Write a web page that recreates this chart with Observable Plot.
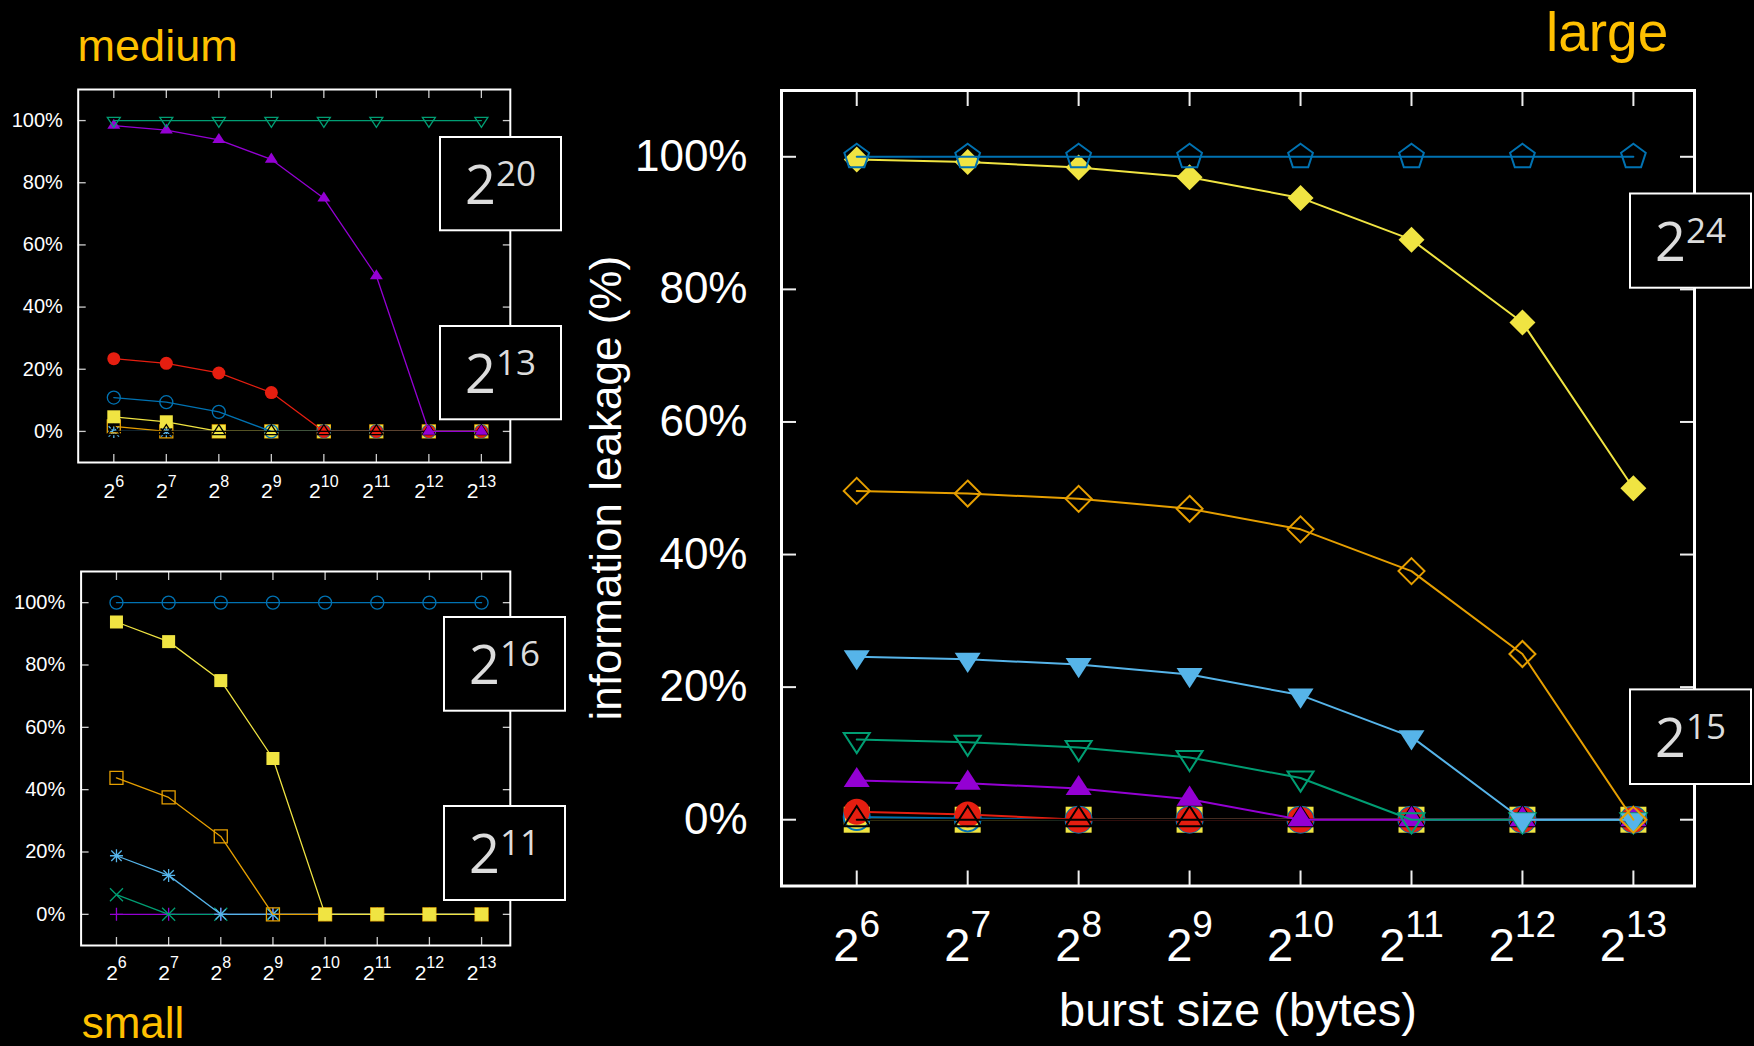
<!DOCTYPE html>
<html><head><meta charset="utf-8">
<script src="https://cdn.jsdelivr.net/npm/d3@7"></script>
<script src="https://cdn.jsdelivr.net/npm/@observablehq/plot@0.6"></script>
<style>
html,body{margin:0;padding:0;background:#000;}
#page{position:relative;width:1754px;height:1046px;overflow:hidden;background:#000;}
#page svg{position:absolute;}
</style></head><body><div id="page"></div>
<script>
// ---------- data ----------
const burstSizes = [64, 128, 256, 512, 1024, 2048, 4096, 8192];
const xTicks = [64, 128, 256, 512, 1024, 2048, 4096, 8192];
const yTicks = [0, 20, 40, 60, 80, 100];

// small (cache 2^11 .. 2^16)
const smallPlus       = [0, 0, 0, 0, 0, 0, 0, 0];
const smallCross      = [6.3, 0, 0, 0, 0, 0, 0, 0];
const smallStar       = [18.8, 12.5, 0, 0, 0, 0, 0, 0];
const smallBox        = [43.8, 37.5, 25, 0, 0, 0, 0, 0];
const smallFilledBox  = [93.8, 87.5, 75, 50, 0, 0, 0, 0];
const smallCircle     = [100, 100, 100, 100, 100, 100, 100, 100];

// medium (cache 2^13 .. 2^20)
const mediumStar           = [0, 0, 0, 0, 0, 0, 0, 0];
const mediumBox            = [1.6, 0, 0, 0, 0, 0, 0, 0];
const mediumFilledBox      = [4.7, 3.1, 0, 0, 0, 0, 0, 0];
const mediumCircle         = [10.9, 9.4, 6.3, 0, 0, 0, 0, 0];
const mediumFilledCircle   = [23.4, 21.9, 18.8, 12.5, 0, 0, 0, 0];
const mediumTriangle       = [0, 0, 0, 0, 0, 0, 0, 0];
const mediumFilledTriangle = [98.4, 96.9, 93.8, 87.5, 75, 50, 0, 0];
const mediumTriangleDown   = [100, 100, 100, 100, 100, 100, 100, 100];

// large (cache 2^15 .. 2^24)
const largeFilledBox          = [0, 0, 0, 0, 0, 0, 0, 0];
const largeCircle             = [0.4, 0.2, 0, 0, 0, 0, 0, 0];
const largeFilledCircle       = [1.2, 0.8, 0, 0, 0, 0, 0, 0];
const largeTriangle           = [0, 0, 0, 0, 0, 0, 0, 0];
const largeFilledTriangle     = [5.9, 5.5, 4.7, 3.1, 0, 0, 0, 0];
const largeTriangleDown       = [12.1, 11.7, 10.9, 9.4, 6.3, 0, 0, 0];
const largeFilledTriangleDown = [24.6, 24.2, 23.4, 21.9, 18.8, 12.5, 0, 0];
const largeDiamond            = [49.6, 49.2, 48.4, 46.9, 43.8, 37.5, 25, 0];
const largeFilledDiamond      = [99.6, 99.2, 98.4, 96.9, 93.8, 87.5, 75, 50];
const largePentagon           = [100, 100, 100, 100, 100, 100, 100, 100];

const panelTitles = ["small", "medium", "large"];
const smallBoxLabels = ["16", "11"];
const mediumBoxLabels = ["20", "13"];
const largeBoxLabels = ["24", "15"];
const xAxisTitle = "burst size (bytes)";
const yAxisTitle = "information leakage (%)";

// ---------- styles ----------
const pointStyles = {
  plus:               {shape: "plus",         color: "#9400D3", filled: false},
  cross:              {shape: "cross",        color: "#009E73", filled: false},
  star:               {shape: "star",         color: "#56B4E9", filled: false},
  box:                {shape: "box",          color: "#E69F00", filled: false},
  filledBox:          {shape: "box",          color: "#F0E442", filled: true},
  circle:             {shape: "circle",       color: "#0072B2", filled: false},
  filledCircle:       {shape: "circle",       color: "#E51E10", filled: true},
  triangle:           {shape: "triangle",     color: "#000000", filled: false},
  filledTriangle:     {shape: "triangle",     color: "#9400D3", filled: true},
  triangleDown:       {shape: "triangleDown", color: "#009E73", filled: false},
  filledTriangleDown: {shape: "triangleDown", color: "#56B4E9", filled: true},
  diamond:            {shape: "diamond",      color: "#E69F00", filled: false},
  filledDiamond:      {shape: "diamond",      color: "#F0E442", filled: true},
  pentagon:           {shape: "pentagon",     color: "#0072B2", filled: false}
};

function sym(fn) { return {draw(ctx, size) { fn(ctx, Math.sqrt(size / Math.PI)); }}; }
const shapes = {
  plus: sym((c, s) => { c.moveTo(-s, 0); c.lineTo(s, 0); c.moveTo(0, -s); c.lineTo(0, s); }),
  cross: sym((c, s) => { c.moveTo(-s, -s); c.lineTo(s, s); c.moveTo(-s, s); c.lineTo(s, -s); }),
  star: sym((c, s) => { c.moveTo(-s, 0); c.lineTo(s, 0); c.moveTo(0, -s); c.lineTo(0, s);
                        const k = s * 0.8; c.moveTo(-k, -k); c.lineTo(k, k); c.moveTo(-k, k); c.lineTo(k, -k); }),
  box: sym((c, s) => { c.moveTo(-s, -s); c.lineTo(s, -s); c.lineTo(s, s); c.lineTo(-s, s); c.closePath(); }),
  circle: sym((c, s) => { c.moveTo(s, 0); c.arc(0, 0, s, 0, 2 * Math.PI); c.closePath(); }),
  triangle: sym((c, s) => { c.moveTo(0, -1.05 * s); c.lineTo(s, 0.5 * s); c.lineTo(-s, 0.5 * s); c.closePath(); }),
  triangleDown: sym((c, s) => { c.moveTo(0, 1.05 * s); c.lineTo(s, -0.5 * s); c.lineTo(-s, -0.5 * s); c.closePath(); }),
  diamond: sym((c, s) => { c.moveTo(0, -s); c.lineTo(s, 0); c.lineTo(0, s); c.lineTo(-s, 0); c.closePath(); }),
  pentagon: sym((c, s) => {
    for (let k = 0; k < 5; ++k) {
      const a = -Math.PI / 2 + k * 2 * Math.PI / 5;
      const px = s * Math.cos(a), py = s * Math.sin(a);
      if (k === 0) c.moveTo(px, py); else c.lineTo(px, py);
    }
    c.closePath();
  })
};

const smallSeries = [
  [smallPlus, "plus"], [smallCross, "cross"], [smallStar, "star"],
  [smallBox, "box"], [smallFilledBox, "filledBox"], [smallCircle, "circle"]
];
const mediumSeries = [
  [mediumStar, "star"], [mediumBox, "box"], [mediumFilledBox, "filledBox"],
  [mediumCircle, "circle"], [mediumFilledCircle, "filledCircle"], [mediumTriangle, "triangle"],
  [mediumFilledTriangle, "filledTriangle"], [mediumTriangleDown, "triangleDown"]
];
const largeSeries = [
  [largeFilledBox, "filledBox"], [largeCircle, "circle"], [largeFilledCircle, "filledCircle"],
  [largeTriangle, "triangle"], [largeFilledTriangle, "filledTriangle"], [largeTriangleDown, "triangleDown"],
  [largeFilledTriangleDown, "filledTriangleDown"], [largeDiamond, "diamond"],
  [largeFilledDiamond, "filledDiamond"], [largePentagon, "pentagon"]
];

const FONT = "Liberation Sans, Arial, Helvetica, sans-serif";
const page = document.getElementById("page");
const ns = "http://www.w3.org/2000/svg";

function makePanel(o) {
  const marks = [];
  const tickStyle = {stroke: o.tickColor, strokeWidth: o.tickWidth, fill: "none", label: null};
  marks.push(Plot.axisX(xTicks, {anchor: "bottom", tickSize: o.tickLen, dy: -o.tickLen, ...tickStyle}));
  marks.push(Plot.axisX(xTicks, {anchor: "top", tickSize: o.tickLen, dy: o.tickLen, ...tickStyle}));
  marks.push(Plot.axisY(yTicks, {anchor: "left", tickSize: o.tickLen, dx: o.tickLen, ...tickStyle}));
  marks.push(Plot.axisY(yTicks, {anchor: "right", tickSize: o.tickLen, dx: -o.tickLen, ...tickStyle}));
  marks.push(Plot.axisX(xTicks, {
    anchor: "bottom", tickSize: 0, tickPadding: o.xPad, fill: "white", fontSize: o.xFont, fontFamily: FONT,
    tickFormat: d => "2^" + Math.round(Math.log2(d)),
    label: o.xLabel ?? null, labelAnchor: "center", labelOffset: o.xLabelOffset, labelArrow: "none"
  }));
  marks.push(Plot.axisY(yTicks, {
    anchor: "left", tickSize: 0, tickPadding: o.yPad, fill: "white", fontSize: o.yFont, fontFamily: FONT,
    tickFormat: d => d + "%",
    label: o.yLabel ?? null, labelAnchor: "center", labelOffset: o.yLabelOffset, labelArrow: "none"
  }));
  for (const [values, type] of o.series) {
    const st = pointStyles[type];
    const data = burstSizes.map((b, i) => ({burst: b, leak: values[i]}));
    marks.push(Plot.line(data, {x: "burst", y: "leak", stroke: st.color, strokeWidth: o.lineWidth}));
    marks.push(Plot.dot(data, {
      x: "burst", y: "leak", symbol: shapes[st.shape], r: o.s,
      fill: st.filled ? st.color : "none",
      stroke: st.filled ? "none" : st.color,
      strokeWidth: o.markWidth
    }));
  }
  marks.push(Plot.frame({stroke: "white", strokeWidth: o.frameWidth}));

  const svg = Plot.plot({
    width: o.width, height: o.height,
    marginLeft: o.marginLeft, marginRight: o.marginRight, marginTop: o.marginTop, marginBottom: o.marginBottom,
    x: {type: "log", base: 2, domain: [40, 12000]},
    y: {domain: [-10, 110]},
    style: {background: "transparent", color: "white", fontFamily: FONT, overflow: "visible"},
    marks
  });
  svg.style.left = o.left + "px";
  svg.style.top = o.top + "px";
  svg.style.maxWidth = "none";
  // superscript exponents on the x tick labels
  svg.querySelectorAll('g[aria-label="x-axis tick label"] text').forEach(t => {
    const m = /^2\^(\d+)$/.exec(t.textContent);
    if (!m) return;
    t.textContent = "";
    const a = document.createElementNS(ns, "tspan"); a.textContent = "2";
    const b = document.createElementNS(ns, "tspan"); b.textContent = m[1];
    b.setAttribute("font-size", o.supFont);
    b.setAttribute("dy", -o.supRaise);
    t.append(a, b);
  });
  page.appendChild(svg);
}

// medium panel: frame x 77.7..509.8, y 89..462
makePanel({series: mediumSeries, left: 0, top: 0, width: 580, height: 530,
  marginLeft: 77.7, marginRight: 70.2, marginTop: 89, marginBottom: 68,
  s: 6.5, lineWidth: 1.3, markWidth: 1.3, frameWidth: 2, tickLen: 8, tickWidth: 1.3, tickColor: "#cccccc",
  xFont: 21, supFont: 16, supRaise: 11.5, xPad: 21, yFont: 20, yPad: 15.4});

// small panel: frame x 80.6..509.8, y 571..945
makePanel({series: smallSeries, left: 0, top: 540, width: 580, height: 506,
  marginLeft: 80.6, marginRight: 70.2, marginTop: 31, marginBottom: 101,
  s: 6.5, lineWidth: 1.3, markWidth: 1.3, frameWidth: 2, tickLen: 8, tickWidth: 1.3, tickColor: "#cccccc",
  xFont: 21, supFont: 16, supRaise: 11.5, xPad: 19.5, yFont: 20, yPad: 15.9});

// large panel: frame x 781..1694, y 90..885.5
makePanel({series: largeSeries, left: 560, top: 0, width: 1194, height: 1046,
  marginLeft: 221, marginRight: 60, marginTop: 90, marginBottom: 160.5,
  s: 13, lineWidth: 2, markWidth: 2, frameWidth: 3, tickLen: 15, tickWidth: 2, tickColor: "#eeeeee",
  xFont: 47, supFont: 37, supRaise: 23.5, xPad: 41.5, yFont: 44, yPad: 34,
  xLabel: xAxisTitle, xLabelOffset: 140, yLabel: yAxisTitle, yLabelOffset: 192});

// ---------- overlay: titles and cache-size boxes ----------
const overlay = d3.select(page).append("svg")
  .attr("width", 1754).attr("height", 1046)
  .style("left", "0px").style("top", "0px");

const titleSpecs = [
  {text: panelTitles[1], x: 77.6, y: 61, size: 45},
  {text: panelTitles[2], x: 1546, y: 50.7, size: 55},
  {text: panelTitles[0], x: 81.7, y: 1038, size: 44}
];
overlay.selectAll("text.title").data(titleSpecs).join("text")
  .attr("class", "title")
  .attr("x", d => d.x).attr("y", d => d.y)
  .attr("font-family", FONT).attr("font-size", d => d.size)
  .attr("fill", "#FFC000")
  .text(d => d.text);

const boxSpecs = [
  {exp: mediumBoxLabels[0], x0: 440, x1: 561, y0: 137, y1: 230.3},
  {exp: mediumBoxLabels[1], x0: 440, x1: 561, y0: 326, y1: 419.3},
  {exp: smallBoxLabels[0], x0: 444, x1: 565, y0: 617, y1: 710.7},
  {exp: smallBoxLabels[1], x0: 444, x1: 565, y0: 806, y1: 900},
  {exp: largeBoxLabels[0], x0: 1630, x1: 1751, y0: 193.5, y1: 287.7},
  {exp: largeBoxLabels[1], x0: 1630, x1: 1751, y0: 689.4, y1: 784}
];
const bg = overlay.selectAll("g.box").data(boxSpecs).join("g").attr("class", "box");
bg.append("rect")
  .attr("x", d => d.x0).attr("y", d => d.y0)
  .attr("width", d => d.x1 - d.x0).attr("height", d => d.y1 - d.y0)
  .attr("fill", "black").attr("stroke", "white").attr("stroke-width", 2);
const bt = bg.append("text")
  .attr("x", d => (d.x0 + d.x1) / 2)
  .attr("y", d => (d.y0 + d.y1) / 2 + 20.4)
  .attr("text-anchor", "middle")
  .attr("font-family", "Open Sans, Noto Sans, DejaVu Sans, sans-serif")
  .attr("fill", "#dcdcdc");
bt.append("tspan").attr("font-size", 54).text("2");
bt.append("tspan").attr("font-size", 35).attr("dy", -18.4).text(d => d.exp);
</script>
</body></html>
